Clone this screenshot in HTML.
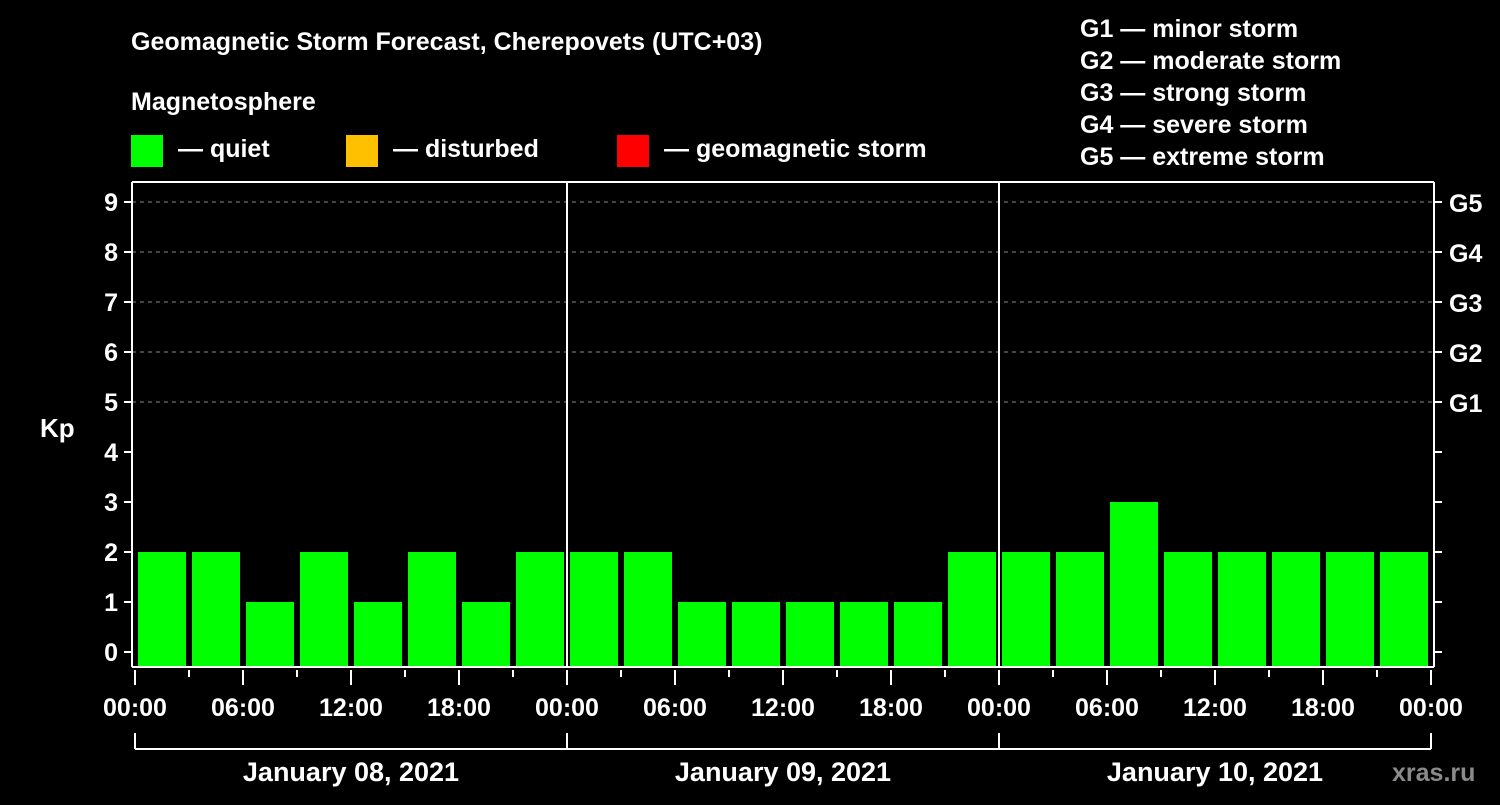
<!DOCTYPE html>
<html><head><meta charset="utf-8"><style>
body{margin:0;background:#000;width:1500px;height:800px;overflow:hidden}
svg text{font-family:"Liberation Sans",Arial,sans-serif;font-weight:bold;fill:#fff}
</style></head><body>
<svg id="chart" width="1500" height="800" viewBox="0 0 1500 800">
<rect width="1500" height="800" fill="#000"/>
<text x="131" y="50" font-size="25">Geomagnetic Storm Forecast, Cherepovets (UTC+03)</text>
<text x="131" y="110" font-size="25">Magnetosphere</text>
<g><rect x="131" y="135" width="32" height="32" fill="#00ff00"/><text x="178" y="157" font-size="25">— quiet</text></g>
<g><rect x="346" y="135" width="32" height="32" fill="#ffc000"/><text x="393" y="157" font-size="25">— disturbed</text></g>
<g><rect x="617" y="135" width="32" height="32" fill="#ff0000"/><text x="664" y="157" font-size="25">— geomagnetic storm</text></g>
<g font-size="25">
<text x="1080" y="37">G1 — minor storm</text>
<text x="1080" y="69">G2 — moderate storm</text>
<text x="1080" y="101">G3 — strong storm</text>
<text x="1080" y="133">G4 — severe storm</text>
<text x="1080" y="165">G5 — extreme storm</text>
</g>
<text x="40" y="437" font-size="26">Kp</text>
<text x="1392" y="781" font-size="25" fill="#888" style="fill:#8a8a8a">xras.ru</text>
<g id="grid"></g><g id="bars"></g><g id="axes"></g>
</svg>
<script>
const kpValues=[2,2,1,2,1,2,1,2, 2,2,1,1,1,1,1,2, 2,2,3,2,2,2,2,2];
const yTicks=[0,1,2,3,4,5,6,7,8,9];
const gLabels=["G1","G2","G3","G4","G5"];
const timeLabels=["00:00","06:00","12:00","18:00","00:00","06:00","12:00","18:00","00:00","06:00","12:00","18:00","00:00"];
const dayLabels=["January 08, 2021","January 09, 2021","January 10, 2021"];
const NS="http://www.w3.org/2000/svg";
const X0=135,SLOT=(1431-135)/24,Y0=652,UNIT=50,LEFT=132,RIGHT=1434,TOP=182,BOT=667;
const xs=i=>X0+i*SLOT, ys=v=>Y0-v*UNIT;
function mk(tag,attrs,parent){const e=document.createElementNS(NS,tag);for(const k in attrs)e.setAttribute(k,attrs[k]);document.getElementById(parent).appendChild(e);return e;}
yTicks.forEach(v=>{
 if(v>=5){const l=mk('line',{x1:LEFT,x2:RIGHT,y1:ys(v),y2:ys(v),stroke:'#888','stroke-dasharray':'4,4','stroke-width':1},'grid');
 
 }
 const t=mk('line',{x1:LEFT-8,x2:LEFT,y1:ys(v),y2:ys(v),stroke:'#fff','stroke-width':2},'axes');
 
 
 const r=mk('line',{x1:RIGHT,x2:RIGHT+8,y1:ys(v),y2:ys(v),stroke:'#fff','stroke-width':2},'axes');
 
 
 const tx=mk('text',{x:LEFT-14,y:ys(v)+9,'text-anchor':'end','font-size':25},'axes');tx.textContent=v;
 
 
});
gLabels.forEach((g,i)=>{const t=mk('text',{x:1449,y:ys(i+5)+10,'font-size':25},'axes');t.textContent=g;
 
 });
kpValues.forEach((v,i)=>{
 const c=v>=5?'#ff0000':(v>=4?'#ffc000':'#00ff00');
 const b=mk('rect',{x:xs(i)+3,y:ys(v),width:SLOT-6,height:BOT-ys(v),fill:c},'bars');
 
 
});
// axes frame
[[LEFT,TOP,LEFT,BOT],[RIGHT,TOP,RIGHT,BOT],[LEFT,TOP,RIGHT,TOP],[LEFT,BOT,RIGHT,BOT]].forEach(a=>{
 const l=mk('line',{x1:a[0],y1:a[1],x2:a[2],y2:a[3],stroke:'#fff','stroke-width':2},'axes');
 
 });
for(let d=1;d<3;d++){const l=mk('line',{x1:xs(d*8),x2:xs(d*8),y1:TOP,y2:BOT,stroke:'#fff','stroke-width':2},'axes');
 
 }
for(let i=0;i<=24;i++){const major=i%2==0;
 const l=mk('line',{x1:xs(i),x2:xs(i),y1:BOT+3,y2:BOT+(major?18:10),stroke:'#fff','stroke-width':2},'axes');
 
 }
timeLabels.forEach((s,i)=>{const t=mk('text',{x:xs(i*2),y:716,'text-anchor':'middle','font-size':25},'axes');t.textContent=s;
 
 });
const br=mk('line',{x1:xs(0),x2:xs(24),y1:749,y2:749,stroke:'#fff','stroke-width':2},'axes');


for(let d=0;d<=3;d++){const l=mk('line',{x1:xs(d*8),x2:xs(d*8),y1:733,y2:749,stroke:'#fff','stroke-width':2},'axes');
 
 }
dayLabels.forEach((s,d)=>{const t=mk('text',{x:(xs(d*8)+xs(d*8+8))/2,y:781,'text-anchor':'middle','font-size':27},'axes');t.textContent=s;
 
 });
</script>
</body></html>
